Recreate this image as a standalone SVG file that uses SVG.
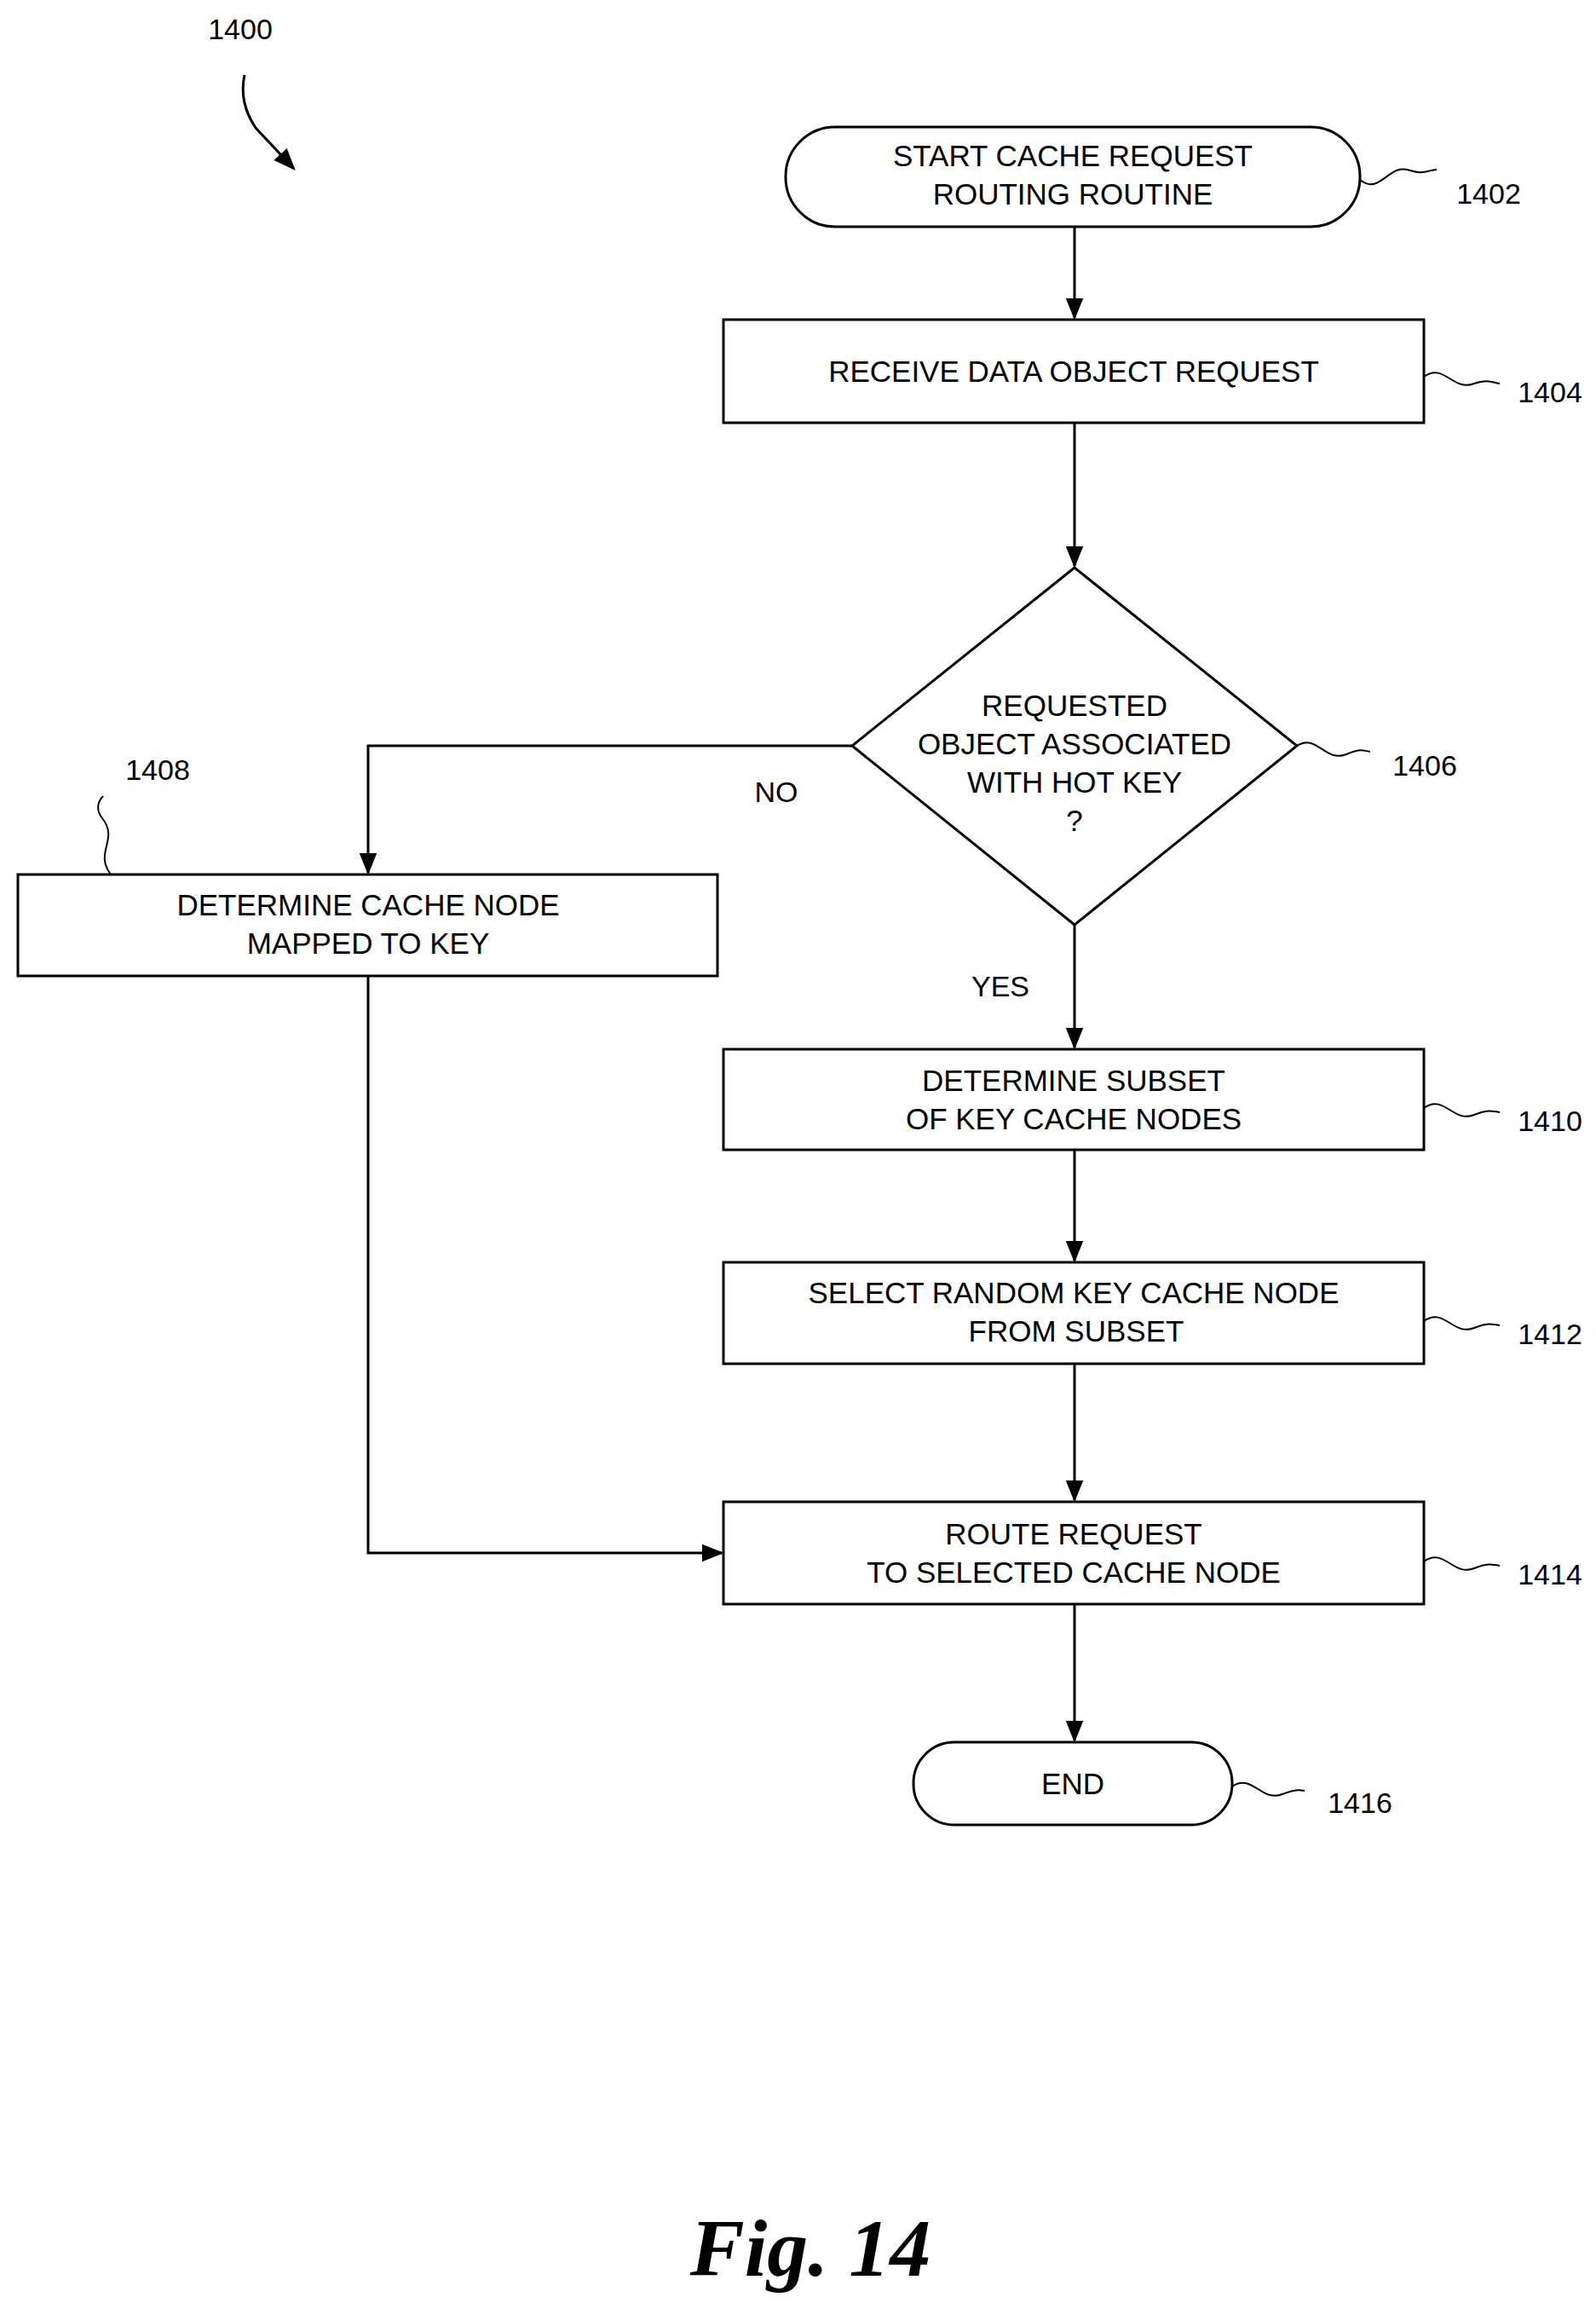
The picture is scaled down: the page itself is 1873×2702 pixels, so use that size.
<svg xmlns="http://www.w3.org/2000/svg" width="1873" height="2702" viewBox="0 0 1873 2702">
<style>
.s{fill:#fff;stroke:#000;stroke-width:3}
.t{font-family:"Liberation Sans",Arial,sans-serif;font-size:35px;text-anchor:middle;fill:#000}
.l{font-family:"Liberation Sans",Arial,sans-serif;font-size:34px;text-anchor:middle;fill:#000}
.c{fill:none;stroke:#000;stroke-width:3}
.q{fill:none;stroke:#000;stroke-width:2}
</style>
<defs><marker id="a" markerWidth="10" markerHeight="10" refX="9" refY="5" orient="auto" markerUnits="userSpaceOnUse" viewBox="0 0 10 10"><path d="M0,0 L10,5 L0,10 z"/></marker>
<marker id="b" viewBox="0 0 10 10" refX="9" refY="5" markerWidth="26" markerHeight="26" orient="auto" markerUnits="userSpaceOnUse"><path d="M0,1 L10,5 L0,9 z"/></marker></defs>
<rect width="1873" height="2702" fill="#fff"/>
<text class="l" x="282" y="46">1400</text>
<path class="c" d="M287,88 Q280,120 300,150 L345,198" marker-end="url(#b)"/>
<g id="n1402"><rect class="s" x="922" y="149" width="674" height="117" rx="58"/><text class="t" x="1259" y="195">START CACHE REQUEST</text><text class="t" x="1259" y="240">ROUTING ROUTINE</text></g>
<g id="n1404"><rect class="s" x="849" y="375" width="822" height="121"/><text class="t" x="1260" y="448">RECEIVE DATA OBJECT REQUEST</text></g>
<g id="n1406"><polygon class="s" points="1261,666 1522,875 1261,1085 1000,875"/><text class="t" x="1261" y="840">REQUESTED</text><text class="t" x="1261" y="885">OBJECT ASSOCIATED</text><text class="t" x="1261" y="930">WITH HOT KEY</text><text class="t" x="1261" y="975">?</text></g>
<g id="n1408"><rect class="s" x="21" y="1026" width="821" height="119"/><text class="t" x="432" y="1074">DETERMINE CACHE NODE</text><text class="t" x="432" y="1119">MAPPED TO KEY</text></g>
<g id="n1410"><rect class="s" x="849" y="1231" width="822" height="118"/><text class="t" x="1260" y="1280">DETERMINE SUBSET</text><text class="t" x="1260" y="1325">OF KEY CACHE NODES</text></g>
<g id="n1412"><rect class="s" x="849" y="1481" width="822" height="119"/><text class="t" x="1260" y="1529">SELECT RANDOM KEY CACHE NODE</text><text class="t" x="1263" y="1574">FROM SUBSET</text></g>
<g id="n1414"><rect class="s" x="849" y="1762" width="822" height="120"/><text class="t" x="1260" y="1812">ROUTE REQUEST</text><text class="t" x="1260" y="1857">TO SELECTED CACHE NODE</text></g>
<g id="n1416"><rect class="s" x="1072" y="2044" width="374" height="97" rx="48"/><text class="t" x="1259" y="2105">END</text></g>
<g id="connectors">
<path class="c" d="M1261,266 V373" marker-end="url(#b)"/>
<path class="c" d="M1261,496 V664" marker-end="url(#b)"/>
<path class="c" d="M1000,875 H432 V1024" marker-end="url(#b)"/>
<path class="c" d="M1261,1085 V1229" marker-end="url(#b)"/>
<path class="c" d="M1261,1349 V1479" marker-end="url(#b)"/>
<path class="c" d="M1261,1600 V1760" marker-end="url(#b)"/>
<path class="c" d="M432,1145 V1822 H847" marker-end="url(#b)"/>
<path class="c" d="M1261,1882 V2042" marker-end="url(#b)"/>
</g>
<text class="l" x="911" y="941">NO</text>
<text class="l" x="1174" y="1169">YES</text>
<path class="q" d="M1596,211 C1620,230 1630,190 1655,200 C1670,205 1675,200 1686,199"/>
<text class="l" x="1747" y="239">1402</text>
<path class="q" d="M1671,442 C1695,425 1705,460 1730,450 C1745,445 1750,448 1760,450"/>
<text class="l" x="1819" y="472">1404</text>
<path class="q" d="M1522,875 C1545,860 1555,895 1580,885 C1595,878 1600,880 1608,882"/>
<text class="l" x="1672" y="910">1406</text>
<path class="q" d="M130,1026 C110,1000 140,985 120,960 C112,950 115,940 121,934"/>
<text class="l" x="185" y="915">1408</text>
<path class="q" d="M1671,1300 C1695,1283 1705,1318 1730,1308 C1745,1302 1750,1303 1760,1305"/>
<text class="l" x="1819" y="1327">1410</text>
<path class="q" d="M1671,1550 C1695,1533 1705,1568 1730,1558 C1745,1552 1750,1553 1760,1555"/>
<text class="l" x="1819" y="1577">1412</text>
<path class="q" d="M1671,1832 C1695,1815 1705,1850 1730,1840 C1745,1834 1750,1835 1760,1837"/>
<text class="l" x="1819" y="1859">1414</text>
<path class="q" d="M1446,2096 C1470,2080 1480,2115 1505,2105 C1520,2099 1525,2100 1531,2101"/>
<text class="l" x="1596" y="2127">1416</text>
<text x="951" y="2670" style="font-family:'Liberation Serif','Times New Roman',serif;font-size:96px;font-weight:bold;font-style:italic" text-anchor="middle">Fig. 14</text>
</svg>
